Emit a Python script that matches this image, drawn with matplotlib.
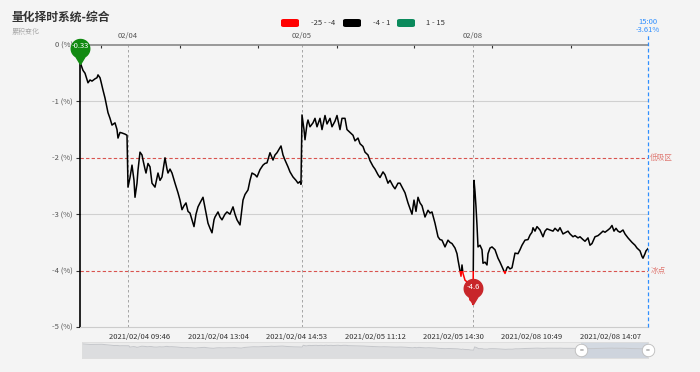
import numpy as np
import matplotlib
matplotlib.use('Agg')
import matplotlib.pyplot as plt
from matplotlib.path import Path
from matplotlib.patches import Rectangle, FancyBboxPatch
import matplotlib.transforms as mtransforms

plt.rcParams['font.family'] = ['Noto Sans CJK SC', 'DejaVu Sans']

# cumulative change (%) against a sample index along the category time axis
idx = [0, 1, 3, 5, 8, 10, 12, 15, 17, 18, 20, 21, 23, 25, 28, 30, 32, 35, 37, 38,
       40, 42, 45, 47, 48, 50, 52, 54, 55, 57, 58, 60, 62, 63, 65, 66, 68, 70, 72, 75,
       77, 78, 80, 82, 85, 87, 88, 90, 92, 95, 98, 100, 102, 104, 106, 108, 110, 112, 114, 116,
       118, 120, 123, 126, 128, 130, 132, 134, 135, 138, 140, 142, 145, 147, 150, 153, 155, 157, 160, 163,
       165, 168, 170, 172, 175, 177, 180, 183, 185, 187, 190, 192, 193, 195, 197, 199, 201, 203, 205, 208,
       210, 213, 216, 218, 220, 221, 222, 224, 225, 227, 228, 230, 233, 235, 237, 240, 242, 245, 247, 250,
       252, 255, 257, 260, 262, 265, 267, 270, 273, 275, 278, 280, 283, 285, 288, 290, 293, 295, 298, 300,
       303, 305, 308, 310, 313, 315, 318, 320, 323, 325, 328, 330, 332, 334, 336, 338, 340, 342, 345, 348,
       350, 352, 355, 358, 360, 362, 365, 368, 370, 372, 375, 377, 378, 380, 381, 382, 383, 385, 387, 388,
       390, 392, 393, 394, 395, 396, 397, 398, 400, 402, 403, 405, 407, 408, 410, 412, 415, 418, 420, 422,
       425, 427, 428, 430, 432, 435, 438, 440, 442, 445, 448, 450, 452, 453, 455, 457, 460, 463, 465, 467,
       470, 473, 475, 478, 480, 483, 485, 488, 490, 493, 495, 498, 500, 503, 505, 508, 510, 512, 515, 518,
       520, 523, 525, 528, 530, 532, 534, 536, 538, 540, 543, 545, 548, 550, 552, 555, 557, 560, 562, 563,
       565, 566, 568]
pct = [-0.30, -0.35, -0.45, -0.50, -0.67, -0.62, -0.64, -0.60, -0.58, -0.53, -0.58, -0.65, -0.80, -0.94, -1.20, -1.30, -1.42, -1.38, -1.50, -1.65,
       -1.55, -1.56, -1.58, -1.60, -2.52, -2.35, -2.13, -2.40, -2.70, -2.45, -2.22, -1.90, -1.95, -2.04, -2.20, -2.27, -2.10, -2.16, -2.45, -2.52,
       -2.35, -2.27, -2.40, -2.34, -2.00, -2.20, -2.27, -2.20, -2.27, -2.45, -2.62, -2.75, -2.92, -2.85, -2.80, -2.95, -2.98, -3.10, -3.22, -3.00,
       -2.87, -2.80, -2.70, -2.98, -3.16, -3.25, -3.33, -3.10, -3.05, -2.96, -3.05, -3.10, -3.00, -2.96, -3.00, -2.87, -3.00, -3.10, -3.19, -2.75,
       -2.65, -2.57, -2.40, -2.27, -2.30, -2.34, -2.21, -2.13, -2.10, -2.09, -1.91, -2.00, -2.04, -1.95, -1.91, -1.85, -1.79, -1.95, -2.04, -2.16,
       -2.25, -2.34, -2.40, -2.45, -2.42, -2.47, -1.24, -1.50, -1.68, -1.40, -1.33, -1.45, -1.38, -1.30, -1.45, -1.30, -1.50, -1.25, -1.40, -1.30,
       -1.45, -1.35, -1.25, -1.50, -1.30, -1.30, -1.50, -1.55, -1.60, -1.70, -1.65, -1.75, -1.80, -1.90, -1.95, -2.05, -2.15, -2.20, -2.30, -2.35,
       -2.25, -2.30, -2.45, -2.40, -2.50, -2.55, -2.45, -2.45, -2.55, -2.62, -2.80, -2.90, -3.00, -2.75, -2.95, -2.70, -2.80, -2.85, -3.05, -2.93,
       -2.98, -2.96, -3.16, -3.40, -3.45, -3.46, -3.58, -3.46, -3.50, -3.52, -3.60, -3.70, -3.81, -4.00, -4.10, -3.90, -4.05, -4.17, -4.20, -4.22,
       -4.52, -4.55, -4.60, -2.40, -2.60, -2.87, -3.20, -3.58, -3.55, -3.63, -3.87, -3.85, -3.90, -3.70, -3.60, -3.58, -3.63, -3.78, -3.85, -3.93,
       -4.05, -3.95, -3.93, -3.97, -3.95, -3.69, -3.70, -3.63, -3.55, -3.46, -3.45, -3.37, -3.32, -3.24, -3.30, -3.22, -3.28, -3.40, -3.30, -3.26,
       -3.28, -3.30, -3.25, -3.30, -3.24, -3.35, -3.33, -3.30, -3.35, -3.40, -3.38, -3.42, -3.40, -3.45, -3.48, -3.42, -3.55, -3.52, -3.40, -3.38,
       -3.35, -3.30, -3.32, -3.28, -3.25, -3.20, -3.30, -3.25, -3.30, -3.32, -3.28, -3.35, -3.42, -3.46, -3.50, -3.55, -3.60, -3.65, -3.75, -3.78,
       -3.70, -3.65, -3.61]

day_idx = [48, 222, 393]
day_labels = ['02/04', '02/05', '02/08']
top_ticks = [21, 100, 178, 257, 334, 412, 491]
time_idx = [60, 139, 217, 295, 373, 452, 530]
time_labels = ['2021/02/04 09:46', '2021/02/04 13:04', '2021/02/04 14:53', '2021/02/05 11:12',
               '2021/02/05 14:30', '2021/02/08 10:49', '2021/02/08 14:07']
y_ticks = [0, -1, -2, -3, -4, -5]
mark_levels = [-2, -4]
mark_labels = ['低吸区', '冰点']
legend_labels = ['-25 - -4', '-4 - 1', '1 - 15']
legend_colors = ['#ff0000', '#000000', '#0b8a5c']
end_label = '15:00\n-3.61%'

BG = '#f4f4f4'
W, H = 700, 372
fig = plt.figure(figsize=(7, 3.72), dpi=100, facecolor=BG)
ax = fig.add_axes([80 / W, (H - 327) / H, 568 / W, 282 / H], facecolor=BG)
ax.set_xlim(0, 568)
ax.set_ylim(-5, 0)

# grid / mark lines
for y in (-1, -3):
    ax.axhline(y, color='#d0d0d0', lw=0.8, zorder=1)
for y, lab in zip(mark_levels, mark_labels):
    ax.axhline(y, color='#d9534f', lw=0.8, ls=(0, (3, 2)), zorder=1)
    ax.text(1.004, y, lab, transform=ax.get_yaxis_transform(), color='#e07a74',
            fontsize=5.5, va='center', ha='left')
for x in day_idx:
    ax.axvline(x, color='#999999', lw=0.6, ls=(0, (3, 3)), zorder=1)

# series: black above -4, red below (piecewise visual map)
x = np.array(idx)
y = np.array(pct)
black, = ax.plot(x, y, color='black', lw=1.1, zorder=3)
red, = ax.plot(x, y, color='#ff0000', lw=1.1, zorder=3)
black.set_clip_path(Rectangle((0, -4), 568, 4, transform=ax.transData))
red.set_clip_path(Rectangle((0, -5), 568, 1, transform=ax.transData))

# end-of-series blue marker line
ax.plot([568, 568], [-5, 0.18], color='#2f8fff', lw=0.9, ls=(0, (3, 2)), clip_on=False, zorder=4)
ax.text(568, 0.2, end_label, color='#2f8fff', fontsize=5.5, ha='center', va='bottom',
        linespacing=0.95)


# teardrop pins for max / min
def pin_path():
    th = np.radians(np.linspace(-60, 240, 60))
    cx, cy = 0.0, 1.7
    verts = [(0, 0)] + [(cx + np.cos(t), cy + np.sin(t)) for t in th] + [(0, 0)]
    return Path(verts)


def draw_pin(xv, yv, color, text):
    ax.plot([xv], [yv], marker=pin_path(), ms=36, color=color, mec=color,
            clip_on=False, zorder=6)
    ax.annotate(text, (xv, yv), xytext=(0, 12.5), textcoords='offset points',
                ha='center', va='center', color='white', fontsize=5.5, zorder=7,
                annotation_clip=False)


imin = int(np.argmin(y))
draw_pin(x[0], -0.33, '#118a11', '-0.33')
draw_pin(x[imin], y[imin], '#c8262a', f'{y[imin]:.1f}')

# axes styling
for s in ('right',):
    ax.spines[s].set_visible(False)
ax.spines['left'].set_color('black')
ax.spines['left'].set_linewidth(1.2)
ax.spines['bottom'].set_color('#cccccc')
ax.spines['top'].set_color('#888888')
ax.spines['top'].set_linewidth(1.2)
ax.set_yticks(y_ticks)
ax.set_yticklabels([f'{v} (%)' for v in y_ticks])
ax.tick_params(axis='y', length=3, width=0.8, color='#333333', labelsize=5.5,
               labelcolor='#555555', pad=2)
ax.set_xticks(time_idx)
ax.set_xticklabels(time_labels)
ax.tick_params(axis='x', length=0, labelsize=5.5, labelcolor='#333333', pad=4)

top = ax.secondary_xaxis('top')
top.set_xticks(top_ticks)
top.set_xticklabels([])
top.tick_params(direction='in', length=2.5, width=0.8, color='#333333')
top.spines['top'].set_visible(False)
for xv, lab in zip(day_idx, day_labels):
    ax.text(xv, 0.08, lab, ha='center', va='bottom', fontsize=5.5, color='#555555')

# data-zoom slider
sl = fig.add_axes([82 / W, (H - 358) / H, 566 / W, 16 / H], facecolor='#ececec')
sl.set_xlim(0, 568)
sl.set_ylim(-10, 1)
sl.fill_between(x, -10, y, color='#dcdddf', lw=0)
sl.plot(x, y, color='#c4c6ca', lw=0.7)
sl.axvspan(501, 568, color='#c9d1dd', alpha=0.7, lw=0)
for s in sl.spines.values():
    s.set_color('#dddddd')
    s.set_linewidth(0.6)
sl.set_xticks([])
sl.set_yticks([])
for hx in (501, 568):
    sl.plot([hx], [-4.5], marker='o', ms=9, color='white', mec='#bbbbbb', mew=0.6,
            clip_on=False, zorder=5)
    sl.text(hx, -4.5, '=', ha='center', va='center', fontsize=5, color='#777777',
            zorder=6, clip_on=False)

# title + subtitle
fig.text(12 / W, 1 - 17 / H, '量化择时系统-综合', fontsize=8.5, fontweight='bold',
         color='#333333', va='center', ha='left')
fig.text(12 / W, 1 - 32 / H, '累积变化', fontsize=5, color='#aaaaaa', va='center', ha='left')

# legend (piecewise colours)
leg_x = [281, 343, 397]
txt_x = [311, 373, 426]
for lx, tx, lab, col in zip(leg_x, txt_x, legend_labels, legend_colors):
    fig.add_artist(FancyBboxPatch((lx / W, 1 - 27 / H), 18 / W, 8 / H,
                                  boxstyle='round,pad=0,rounding_size=0.004',
                                  transform=fig.transFigure, color=col, lw=0))
    fig.text(tx / W, 1 - 23 / H, lab, fontsize=5.5, color='#333333', va='center', ha='left')

fig.savefig('out.png', dpi=100, facecolor=BG)
